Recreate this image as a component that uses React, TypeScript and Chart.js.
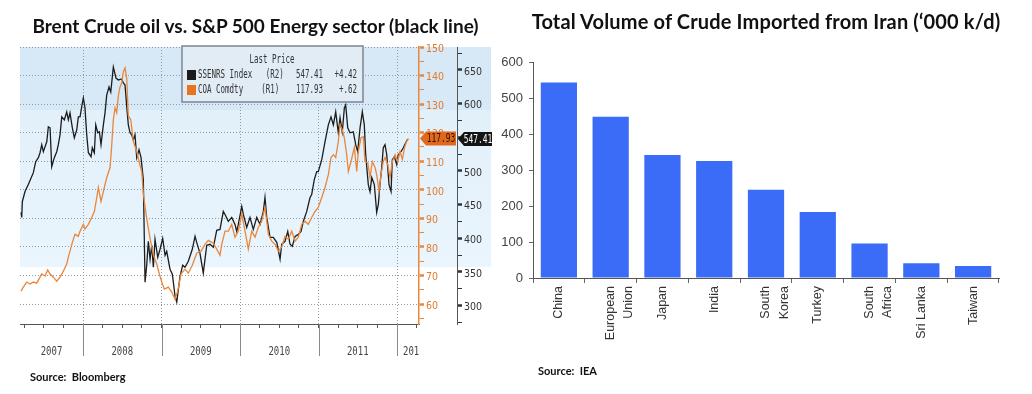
import React, { useEffect, useRef } from 'react';
import { Chart, registerables } from 'chart.js';

Chart.register(...registerables);

// ---------------- Left chart: Brent vs S&P 500 Energy ----------------
const blackDates = [
  2007.210, 2007.219, 2007.227, 2007.261, 2007.303, 2007.367, 2007.397, 2007.431, 2007.452, 2007.474,
  2007.494, 2007.538, 2007.558, 2007.580, 2007.601, 2007.634, 2007.665, 2007.685, 2007.707, 2007.729,
  2007.762, 2007.792, 2007.813, 2007.834, 2007.864, 2007.889, 2007.920, 2007.940, 2007.962, 2007.983,
  2008.004, 2008.025, 2008.047, 2008.068, 2008.102, 2008.118, 2008.144, 2008.162, 2008.187, 2008.208,
  2008.229, 2008.259, 2008.280, 2008.302, 2008.331, 2008.353, 2008.373, 2008.386, 2008.420, 2008.450,
  2008.493, 2008.513, 2008.535, 2008.557, 2008.577, 2008.599, 2008.620, 2008.641, 2008.662, 2008.684,
  2008.713, 2008.739, 2008.768, 2008.790, 2008.811, 2008.832, 2008.854, 2008.875, 2008.896, 2008.917,
  2008.952, 2008.981, 2009.015, 2009.045, 2009.066, 2009.108, 2009.138, 2009.172, 2009.194, 2009.236,
  2009.270, 2009.299, 2009.341, 2009.392, 2009.427, 2009.448, 2009.490, 2009.532, 2009.576, 2009.618,
  2009.660, 2009.703, 2009.745, 2009.787, 2009.809, 2009.851, 2009.894, 2009.936, 2009.958, 2009.978,
  2010.022, 2010.042, 2010.085, 2010.127, 2010.169, 2010.213, 2010.255, 2010.297, 2010.318, 2010.340,
  2010.382, 2010.424, 2010.468, 2010.510, 2010.531, 2010.573, 2010.608, 2010.637, 2010.666, 2010.701,
  2010.743, 2010.777, 2010.806, 2010.850, 2010.892, 2010.913, 2010.946, 2010.977, 2010.997, 2011.041,
  2011.083, 2011.125, 2011.159, 2011.189, 2011.219, 2011.252, 2011.274, 2011.303, 2011.329, 2011.346,
  2011.372, 2011.401, 2011.443, 2011.474, 2011.499, 2011.529, 2011.558, 2011.583, 2011.601, 2011.634,
  2011.656, 2011.678, 2011.711, 2011.741, 2011.762, 2011.783, 2011.805, 2011.825, 2011.847, 2011.869,
  2011.898, 2011.924, 2011.940, 2011.966, 2011.996, 2012.017, 2012.051, 2012.080, 2012.111, 2012.136,
];
const blackValues = [
  438.3, 430.9, 454.6, 469.3, 479.7, 497.4, 513.7, 519.6, 527.0, 538.9,
  528.5, 543.3, 565.5, 564.0, 506.3, 519.6, 528.5, 538.9, 553.6, 580.3,
  575.8, 587.7, 575.8, 586.2, 564.0, 549.2, 561.0, 580.3, 580.3, 595.1,
  608.4, 593.6, 553.6, 527.0, 521.1, 534.4, 527.0, 568.4, 556.6, 558.1,
  538.9, 568.4, 586.2, 612.8, 624.6, 617.2, 639.4, 654.2, 637.9, 635.0,
  636.5, 630.6, 627.6, 595.1, 568.4, 556.6, 553.6, 546.2, 553.6, 519.6,
  531.5, 519.6, 487.1, 334.8, 359.9, 395.4, 368.8, 389.5, 356.9, 398.4,
  371.7, 383.6, 399.8, 374.7, 380.6, 354.0, 346.6, 314.1, 305.2, 343.6,
  359.9, 356.9, 365.8, 383.6, 402.8, 393.9, 377.6, 348.1, 389.5, 391.0,
  386.5, 411.7, 413.1, 439.8, 435.3, 425.0, 430.9, 420.5, 410.2, 420.5,
  447.2, 435.3, 416.1, 430.9, 413.1, 430.9, 420.5, 439.8, 460.5, 430.9,
  401.3, 401.3, 393.9, 368.8, 391.0, 395.4, 410.2, 391.0, 388.0, 402.8,
  405.7, 410.2, 425.0, 439.8, 460.5, 464.9, 487.1, 498.9, 498.9, 516.7,
  543.3, 568.4, 580.3, 568.4, 587.7, 556.6, 578.8, 558.1, 593.6, 598.0,
  564.0, 556.6, 558.1, 538.9, 528.5, 564.0, 587.7, 568.4, 524.1, 479.7,
  469.3, 490.1, 479.7, 438.3, 450.1, 479.7, 504.8, 534.4, 538.9, 524.1,
  479.7, 469.3, 516.7, 521.1, 509.3, 524.1, 528.5, 534.4, 541.8, 547.41,
];
const orangeDates = [
  2007.210, 2007.239, 2007.283, 2007.325, 2007.367, 2007.410, 2007.452, 2007.474, 2007.516, 2007.550,
  2007.580, 2007.622, 2007.665, 2007.707, 2007.749, 2007.792, 2007.813, 2007.834, 2007.864, 2007.898,
  2007.940, 2007.962, 2008.004, 2008.025, 2008.068, 2008.111, 2008.144, 2008.175, 2008.195, 2008.229,
  2008.259, 2008.302, 2008.344, 2008.366, 2008.386, 2008.408, 2008.429, 2008.450, 2008.471, 2008.493,
  2008.513, 2008.535, 2008.557, 2008.577, 2008.608, 2008.641, 2008.684, 2008.726, 2008.748, 2008.768,
  2008.803, 2008.832, 2008.854, 2008.896, 2008.939, 2008.972, 2009.003, 2009.036, 2009.087, 2009.130,
  2009.172, 2009.206, 2009.248, 2009.299, 2009.341, 2009.392, 2009.448, 2009.503, 2009.554, 2009.596,
  2009.660, 2009.703, 2009.745, 2009.767, 2009.809, 2009.851, 2009.894, 2009.936, 2009.978, 2010.022,
  2010.064, 2010.106, 2010.149, 2010.191, 2010.233, 2010.276, 2010.318, 2010.361, 2010.404, 2010.446,
  2010.488, 2010.531, 2010.573, 2010.615, 2010.659, 2010.701, 2010.743, 2010.786, 2010.828, 2010.870,
  2010.913, 2010.955, 2010.997, 2011.041, 2011.083, 2011.125, 2011.159, 2011.189, 2011.219, 2011.252,
  2011.274, 2011.303, 2011.329, 2011.359, 2011.380, 2011.414, 2011.456, 2011.487, 2011.507, 2011.541,
  2011.571, 2011.592, 2011.627, 2011.656, 2011.685, 2011.720, 2011.741, 2011.771, 2011.796, 2011.825,
  2011.847, 2011.882, 2011.911, 2011.940, 2011.975, 2012.009, 2012.038, 2012.068, 2012.096, 2012.121,
  2012.147,
];
const orangeValues = [
  64.5, 65.9, 67.7, 67.0, 67.7, 67.3, 69.4, 70.5, 69.8, 71.9,
  70.5, 69.4, 68.0, 69.4, 71.5, 74.0, 76.4, 78.5, 81.6, 84.4,
  83.7, 85.5, 87.9, 86.2, 87.9, 90.3, 92.4, 97.3, 100.8, 95.9,
  99.4, 104.3, 107.8, 115.8, 124.5, 128.7, 127.0, 132.9, 136.0, 137.4,
  141.3, 142.7, 138.8, 125.9, 124.5, 116.9, 113.4, 108.5, 106.4, 98.7,
  91.4, 86.5, 83.0, 77.1, 74.0, 70.5, 67.7, 65.2, 65.9, 64.2,
  61.7, 64.5, 70.5, 72.2, 70.8, 73.6, 77.8, 78.5, 80.9, 82.3,
  81.3, 79.2, 77.1, 80.9, 85.5, 85.5, 87.9, 83.4, 85.5, 91.4,
  85.5, 79.2, 85.5, 83.4, 86.9, 89.0, 93.8, 84.4, 82.0, 80.9,
  78.5, 79.9, 83.7, 82.7, 85.5, 82.0, 83.4, 87.9, 89.0, 87.9,
  90.3, 92.4, 93.8, 97.3, 100.8, 105.3, 111.3, 112.3, 111.3, 116.9,
  122.8, 121.0, 118.2, 112.3, 106.4, 109.9, 114.8, 106.4, 113.4, 118.2,
  118.6, 109.9, 109.5, 104.3, 109.9, 107.8, 105.3, 99.4, 105.3, 109.9,
  111.3, 108.8, 104.3, 109.9, 112.3, 109.9, 113.4, 110.6, 114.8, 116.9,
  117.93,
];
const quarterTicks = [
  2007.25, 2007.5, 2007.75, 2008, 2008.25, 2008.5, 2008.75, 2009, 2009.25, 2009.5, 2009.75,
  2010, 2010.25, 2010.5, 2010.75, 2011, 2011.25, 2011.5, 2011.75, 2012, 2012.25,
];
const yearBoundaries = [2008, 2009, 2010, 2011, 2012];
const yearLabels = ['2007', '2008', '2009', '2010', '2011', '2012'];
const r1Ticks = [55, 60, 65, 70, 75, 80, 85, 90, 95, 100, 105, 110, 115, 120, 125, 130, 135, 140, 145, 150];
const r2Ticks = [275, 300, 325, 350, 375, 400, 425, 450, 475, 500, 525, 550, 575, 600, 625, 650, 675];
const legendTitle = 'Last Price';
const legendNames = ['SSENRS Index   (R2)', 'COA Comdty    (R1)'];
const legendLast = ['547.41', '117.93'];
const legendChange = ['+4.42', '+.62'];

// ---------------- Right chart: Crude imported from Iran ----------------
const countries: (string | string[])[] = [
  'China', ['European', 'Union'], 'Japan', 'India', ['South', 'Korea'], 'Turkey', ['South', 'Africa'], 'Sri Lanka', 'Taiwan',
];
const volumes = [543, 448, 342, 325, 245, 183, 96, 41, 33];
const volumeTicks = [0, 100, 200, 300, 400, 500, 600];

const FONT_COND = "'DejaVu Sans Condensed', 'Liberation Sans Narrow', sans-serif";
const FONT_MONO = "'DejaVu Sans Mono', 'Liberation Mono', monospace";
const FONT_ARIAL = "'Liberation Sans', Arial, sans-serif";
const FONT_TITLE = "Lato, 'Open Sans', sans-serif";

const ORANGE = '#e9873c';
const ORANGE_TEXT = '#e27a2c';
const BLACK_LINE = '#1c1c1c';
const GRID = '#8e9ba7';

function textC(ctx: CanvasRenderingContext2D, s: string, x: number, y: number, align: CanvasTextAlign, sx: number) {
  ctx.save();
  ctx.translate(x, y);
  ctx.scale(sx, 1);
  ctx.textAlign = align;
  ctx.fillText(s, 0, 0);
  ctx.restore();
}

function drawTag(ctx: CanvasRenderingContext2D, x0: number, y: number, w: number, fill: string, color: string, text: string) {
  ctx.beginPath();
  ctx.moveTo(x0, y);
  ctx.lineTo(x0 + 6, y - 7);
  ctx.lineTo(x0 + w, y - 7);
  ctx.lineTo(x0 + w, y + 7);
  ctx.lineTo(x0 + 6, y + 7);
  ctx.closePath();
  ctx.fillStyle = fill;
  ctx.fill();
  ctx.fillStyle = color;
  ctx.font = `12px ${FONT_MONO}`;
  ctx.textBaseline = 'middle';
  textC(ctx, text, x0 + 3 + w / 2, y + 0.5, 'center', 0.66);
}

const leftDecor = {
  id: 'leftDecor',
  beforeDraw(chart: any) {
    const { ctx, chartArea: a, scales } = chart;
    const right = scales.y2.right;
    ctx.save();
    ctx.fillStyle = '#d7e9f6';
    ctx.fillRect(a.left, a.top, right - a.left, 63);
    const g = ctx.createLinearGradient(0, a.top + 63, 0, a.top + 220);
    g.addColorStop(0, '#e2f0fa');
    g.addColorStop(1, '#eaf5fd');
    ctx.fillStyle = g;
    ctx.fillRect(a.left, a.top + 63, right - a.left, 157);
    ctx.restore();
  },
  afterDraw(chart: any) {
    const { ctx, chartArea: a, scales } = chart;
    const x = scales.x;
    ctx.save();
    // year separators below the axis
    ctx.strokeStyle = '#8a8a8a';
    ctx.lineWidth = 1;
    for (const yb of yearBoundaries) {
      const px = Math.round(x.getPixelForValue(yb)) + 0.5;
      ctx.beginPath();
      ctx.moveTo(px, a.bottom);
      ctx.lineTo(px, a.bottom + 32);
      ctx.stroke();
    }
    // year labels
    ctx.save();
    ctx.beginPath();
    ctx.rect(a.left, a.bottom, a.right - a.left, 60);
    ctx.clip();
    ctx.font = `12.5px ${FONT_MONO}`;
    ctx.fillStyle = '#444';
    ctx.textBaseline = 'middle';
    const sx = 0.72;
    const edges = [x.min, ...yearBoundaries, x.max];
    yearLabels.forEach((lab, i) => {
      const x0 = x.getPixelForValue(edges[i]);
      const x1 = x.getPixelForValue(edges[i + 1]);
      const w = ctx.measureText(lab).width * sx;
      if (x1 - x0 > w + 8) {
        textC(ctx, lab, (x0 + x1) / 2, a.bottom + 28, 'center', sx);
      } else {
        textC(ctx, lab, x0 + 6, a.bottom + 28, 'left', sx);
      }
    });
    ctx.restore();

    // legend box
    const bx = a.left + 162;
    const by = a.top - 1;
    const bw = 181;
    const bh = 56;
    ctx.fillStyle = '#e1ecf5';
    ctx.fillRect(bx, by, bw, bh);
    ctx.strokeStyle = '#7b8793';
    ctx.lineWidth = 1.5;
    ctx.strokeRect(bx, by, bw, bh);
    ctx.font = `12.5px ${FONT_MONO}`;
    ctx.fillStyle = '#333';
    ctx.textBaseline = 'middle';
    const lsx = 0.6;
    textC(ctx, legendTitle, bx + 90, by + 14, 'center', lsx);
    const sw = [BLACK_LINE, '#e8741e'];
    legendNames.forEach((name, i) => {
      const ry = by + 29 + i * 15;
      ctx.fillStyle = sw[i];
      ctx.fillRect(bx + 5, ry - 5, 9, 10);
      ctx.fillStyle = '#333';
      textC(ctx, name, bx + 16, ry, 'left', lsx);
      textC(ctx, legendLast[i], bx + 141, ry, 'right', lsx);
      textC(ctx, legendChange[i], bx + 175, ry, 'right', lsx);
    });

    // last price tags
    const y1 = scales.y1;
    const y2 = scales.y2;
    const lastO = orangeValues[orangeValues.length - 1];
    const lastB = blackValues[blackValues.length - 1];
    drawTag(ctx, y1.left + 1, y1.getPixelForValue(lastO), 36, '#e2691c', '#2b1200', lastO.toFixed(2));
    drawTag(ctx, y2.left + 1, y2.getPixelForValue(lastB), 34, '#141414', '#ffffff', lastB.toFixed(2));
    ctx.restore();
  },
};

function LeftChart() {
  const ref = useRef<HTMLCanvasElement>(null);
  useEffect(() => {
    const canvas = ref.current;
    if (!canvas) return;
    const chart = new Chart(canvas, {
      type: 'line',
      data: {
        datasets: [
          {
            label: 'COA Comdty',
            data: orangeDates.map((d, i) => ({ x: d, y: orangeValues[i] })),
            yAxisID: 'y1',
            borderColor: ORANGE,
            borderWidth: 1.3,
            pointRadius: 0,
            tension: 0,
          },
          {
            label: 'SSENRS Index',
            data: blackDates.map((d, i) => ({ x: d, y: blackValues[i] })),
            yAxisID: 'y2',
            borderColor: BLACK_LINE,
            borderWidth: 1.3,
            pointRadius: 0,
            tension: 0,
          },
        ],
      },
      options: {
        responsive: false,
        animation: false,
        layout: { padding: { left: 20, top: 47, right: 9, bottom: 35 } },
        plugins: { legend: { display: false }, tooltip: { enabled: false } },
        scales: {
          x: {
            type: 'linear',
            position: 'bottom',
            min: 2007.197,
            max: 2012.28,
            afterBuildTicks: (s: any) => { s.ticks = quarterTicks.map((v) => ({ value: v })); },
            afterFit: (s: any) => { s.height = 35; },
            ticks: { display: false },
            grid: {
              color: (c: any) => (c.tick && Number.isInteger(c.tick.value) ? GRID : 'rgba(0,0,0,0)'),
              tickColor: '#555',
              tickLength: 4,
              lineWidth: 1,
            },
            border: { color: '#555', width: 1, dash: [1, 2] },
          },
          y1: {
            type: 'linear',
            position: 'right',
            min: 53,
            max: 150,
            afterBuildTicks: (s: any) => { s.ticks = r1Ticks.map((v) => ({ value: v })); },
            afterFit: (s: any) => { s.width = 38; },
            ticks: {
              autoSkip: false,
              color: ORANGE_TEXT,
              font: { family: FONT_COND, size: 10.5 },
              padding: 2,
              labelOffset: 2,
              callback: (v: any) => (Number(v) % 10 === 0 ? String(v) : ''),
            },
            grid: {
              color: (c: any) => (c.tick && c.tick.value % 10 === 0 ? GRID : 'rgba(0,0,0,0)'),
              tickColor: ORANGE,
              tickLength: 5,
              tickWidth: (c: any) => (c.tick && c.tick.value % 10 === 0 ? 2.5 : 1),
            },
            border: { color: ORANGE, width: 1.5, dash: [1, 2] },
          },
          y2: {
            type: 'linear',
            position: 'right',
            min: 272.6,
            max: 684,
            afterBuildTicks: (s: any) => { s.ticks = r2Ticks.map((v) => ({ value: v })); },
            afterFit: (s: any) => { s.width = 34; },
            ticks: {
              autoSkip: false,
              color: '#333',
              font: { family: FONT_COND, size: 10.5 },
              padding: 2,
              labelOffset: 2,
              callback: (v: any) => (Number(v) % 50 === 0 ? String(v) : ''),
            },
            grid: {
              drawOnChartArea: false,
              tickColor: '#333',
              tickLength: 5,
              tickWidth: (c: any) => (c.tick && c.tick.value % 50 === 0 ? 2.5 : 1),
            },
            border: { color: '#555', width: 1 },
          },
        },
      },
      plugins: [leftDecor],
    } as any);
    return () => chart.destroy();
  }, []);
  return <canvas ref={ref} width={500} height={394} style={{ position: 'absolute', left: 0, top: 0 }} />;
}

function RightChart() {
  const ref = useRef<HTMLCanvasElement>(null);
  useEffect(() => {
    const canvas = ref.current;
    if (!canvas) return;
    const chart = new Chart(canvas, {
      type: 'bar',
      data: {
        labels: countries,
        datasets: [
          {
            data: volumes,
            backgroundColor: '#3b6cf7',
            borderWidth: 0,
            categoryPercentage: 1,
            barPercentage: 0.7,
          },
        ],
      },
      options: {
        responsive: false,
        animation: false,
        layout: { padding: { left: 0, top: 62, right: 33, bottom: 36 } },
        plugins: { legend: { display: false }, tooltip: { enabled: false } },
        scales: {
          x: {
            afterFit: (s: any) => { s.height = 80; },
            grid: { offset: true, drawOnChartArea: false, tickLength: 5, tickColor: '#666' },
            border: { color: '#555', width: 1 },
            ticks: {
              autoSkip: false,
              minRotation: 90,
              maxRotation: 90,
              padding: 3,
              color: '#333',
              font: { family: FONT_ARIAL, size: 12.5, lineHeight: 1.45 },
            },
          },
          y: {
            min: 0,
            max: 600,
            afterBuildTicks: (s: any) => { s.ticks = volumeTicks.map((v) => ({ value: v })); },
            afterFit: (s: any) => { s.width = 33; },
            grid: { drawOnChartArea: false, tickLength: 4, tickColor: '#666' },
            border: { color: '#555', width: 1 },
            ticks: { padding: 6, color: '#444', font: { family: FONT_ARIAL, size: 13 } },
          },
        },
      },
    } as any);
    return () => chart.destroy();
  }, []);
  return <canvas ref={ref} width={532} height={394} style={{ position: 'absolute', left: 500, top: 0 }} />;
}

export default function App() {
  return (
    <div style={{ position: 'absolute', left: 0, top: 0, width: 1032, height: 394, background: '#fff', overflow: 'hidden' }}>
      <LeftChart />
      <RightChart />
      <div
        style={{
          position: 'absolute', left: 0, top: 14, width: 511, textAlign: 'center', whiteSpace: 'nowrap',
          font: `bold 19px ${FONT_TITLE}`, lineHeight: '24px', color: '#111',
        }}
      >
        {'Brent Crude oil vs. S&P 500 Energy sector (black line)'}
      </div>
      <div
        style={{
          position: 'absolute', left: 500, top: 9, width: 532, textAlign: 'center', whiteSpace: 'nowrap',
          font: `bold 20px ${FONT_TITLE}`, lineHeight: '24px', letterSpacing: '0.15px', color: '#111',
        }}
      >
        {'Total Volume of Crude Imported from Iran (\u2018000 k/d)'}
      </div>
      <div
        style={{
          position: 'absolute', left: 30, top: 370, whiteSpace: 'pre',
          font: `bold 11px ${FONT_TITLE}`, lineHeight: '13px', color: '#111',
        }}
      >
        {'Source:  Bloomberg'}
      </div>
      <div
        style={{
          position: 'absolute', left: 538, top: 364, whiteSpace: 'pre',
          font: `bold 11px ${FONT_TITLE}`, lineHeight: '13px', color: '#111',
        }}
      >
        {'Source:  IEA'}
      </div>
    </div>
  );
}
